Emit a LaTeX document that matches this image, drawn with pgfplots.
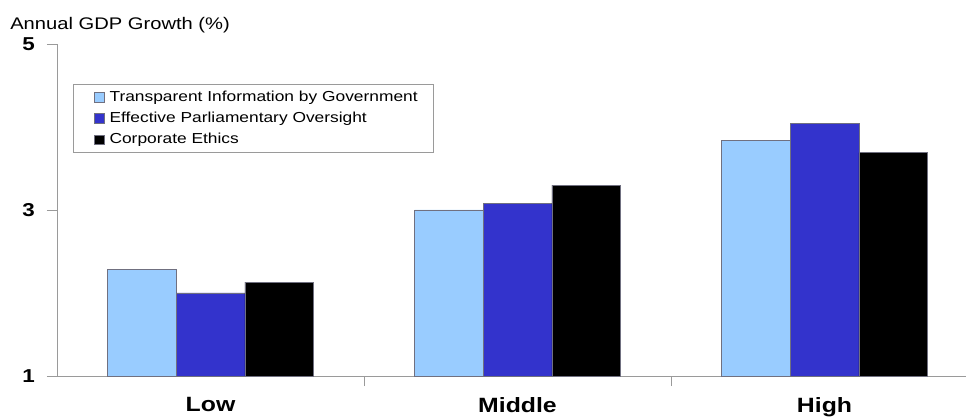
\documentclass[border=0pt]{standalone}
\usepackage{pgfplots}
\pgfplotsset{compat=1.18}
\usepackage{fontspec}
\setmainfont{Liberation Sans}[FakeStretch=1.2]
\definecolor{lb}{HTML}{99CCFF}
\definecolor{db}{HTML}{3333CC}
\definecolor{axgray}{HTML}{9A9A9A}
\definecolor{edge}{HTML}{707080}
\begin{document}
\begin{tikzpicture}
\begin{axis}[
  scale only axis, width=690.75pt, height=249pt,
  xmin=-0.5, xmax=2.5, ymin=1, ymax=5,
  ybar=0pt, bar width=51.5pt,
  clip=false,
  axis x line*=bottom, axis y line*=left,
  axis line style={-, draw=axgray, line width=0.6pt},
  xtick={0.5,1.5}, xticklabels={},
  extra x ticks={0,1,2}, extra x tick labels={Low,Middle,High},
  extra x tick style={major tick length=0pt, xticklabel style={font=\fontsize{15.5}{18}\selectfont\bfseries, yshift=-12.5pt}},
  ytick={1,3,5},
  tick align=outside, major tick length=7.5pt,
  tick style={draw=axgray, line width=0.6pt},
  /pgf/number format/assume math mode=true,
  yticklabel style={font=\fontsize{14}{16}\selectfont\bfseries, xshift=-5.5pt},
  legend style={at={(rel axis cs:0.0174,0.8795)}, anchor=north west, draw=axgray,
    font=\fontsize{10.85}{12}\selectfont, row sep=2.6pt, inner xsep=10pt, inner ysep=3pt},
  legend cell align=left,
  legend image code/.code={\path (-5.5pt,0) (9.2pt,0);\draw[#1, draw=edge, line width=0.4pt] (0pt,-3.7pt) rectangle (7.4pt,3.7pt);},
]
\addplot[fill=lb, draw=edge, line width=0.5pt] coordinates {(0,2.28) (1,3.00) (2,3.84)};
\addplot[fill=db, draw=edge, line width=0.5pt] coordinates {(0,2.00) (1,3.08) (2,4.04)};
\addplot[fill=black, draw=edge, line width=0.5pt] coordinates {(0,2.13) (1,3.30) (2,3.69)};
\legend{Transparent Information by Government, Effective Parliamentary Oversight, Corporate Ethics}
\node[anchor=base west, font=\fontsize{12.6}{14}\selectfont, inner sep=0pt] at ([xshift=-35.25pt, yshift=11pt]rel axis cs:0,1) {Annual GDP Growth (\%)};
\coordinate (O) at (rel axis cs:0,0);
\coordinate (T) at (rel axis cs:1,1);
\end{axis}
\pgfresetboundingbox
\path ([xshift=-42.75pt, yshift=-30.75pt]O) rectangle ([xshift=-9pt, yshift=33pt]T);
\end{tikzpicture}
\end{document}
